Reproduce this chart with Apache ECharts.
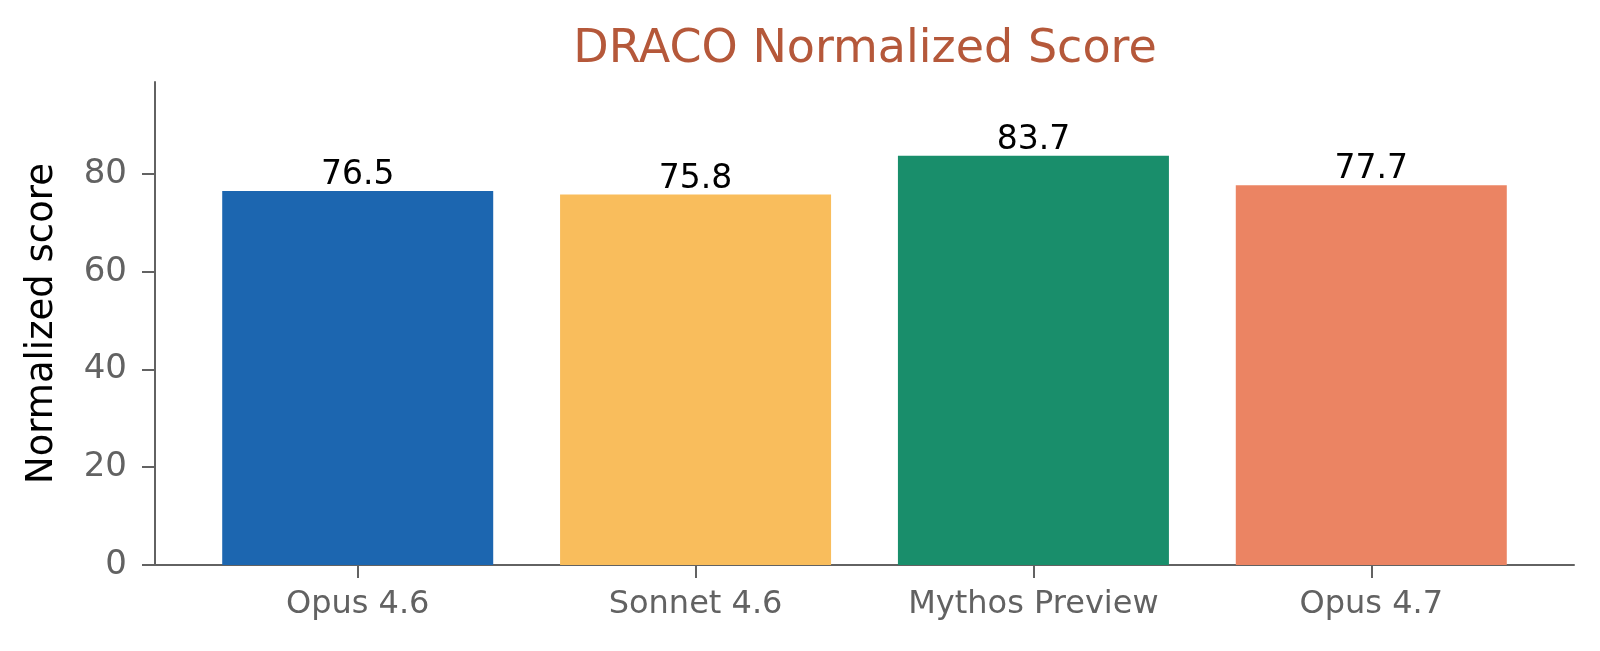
<!DOCTYPE html>
<html><head><meta charset="utf-8">
<script src="https://cdn.jsdelivr.net/npm/echarts@6/dist/echarts.min.js"></script>
<style>html,body{margin:0;padding:0;background:#fff}#c{width:1600px;height:651px}</style>
</head><body><div id="c"></div>
<script>
const categories = ['Opus 4.6', 'Sonnet 4.6', 'Mythos Preview', 'Opus 4.7'];
const scores = [76.5, 75.8, 83.7, 77.7];
const barColors = ['#1C66B0', '#F9BD5C', '#198E6B', '#EB8463'];
const yTicks = [0, 20, 40, 60, 80];
const titleText = 'DRACO Normalized Score';
const yName = 'Normalized score';

const FONT = 'DejaVu Sans';
const GREY = '#626262';
const chart = echarts.init(document.getElementById('c'), null, {renderer: 'canvas'});
chart.setOption({
  animation: false,
  title: {text: titleText, left: 860, textAlign: 'center', top: 22,
    textStyle: {fontFamily: FONT, fontSize: 46, fontWeight: 'normal', color: '#B5583A'}},
  grid: {left: 155, right: 26, top: 82, bottom: 86},
  xAxis: {
    type: 'value', min: -0.6, max: 3.6,
    splitLine: {show: false},
    axisLine: {show: true, onZero: false, lineStyle: {color: GREY, width: 2}},
    axisTick: {show: true, customValues: categories.map((c, i) => i), length: 13, lineStyle: {color: GREY, width: 2}},
    axisLabel: {customValues: categories.map((c, i) => i), formatter: v => categories[Math.round(v)] || '',
      fontFamily: FONT, fontSize: 32, color: GREY, margin: 24}
  },
  yAxis: {
    type: 'value', min: 0, max: 98.8,
    name: yName, nameLocation: 'middle', nameGap: 94,
    nameTextStyle: {fontFamily: FONT, fontSize: 37, color: '#000'},
    splitLine: {show: false},
    axisLine: {show: true, onZero: false, lineStyle: {color: GREY, width: 2}},
    axisTick: {show: true, customValues: yTicks, length: 13, lineStyle: {color: GREY, width: 2}},
    axisLabel: {customValues: yTicks, fontFamily: FONT, fontSize: 34, color: GREY, margin: 28, padding: [4, 0, 0, 0]}
  },
  series: [{
    type: 'bar',
    barWidth: 271,
    data: scores.map((v, i) => ({value: [i, v], itemStyle: {color: barColors[i]}})),
    label: {show: true, position: 'top', distance: -1, formatter: p => p.value[1].toFixed(1),
      fontFamily: FONT, fontSize: 33, color: '#000'}
  }]
});
</script></body></html>
